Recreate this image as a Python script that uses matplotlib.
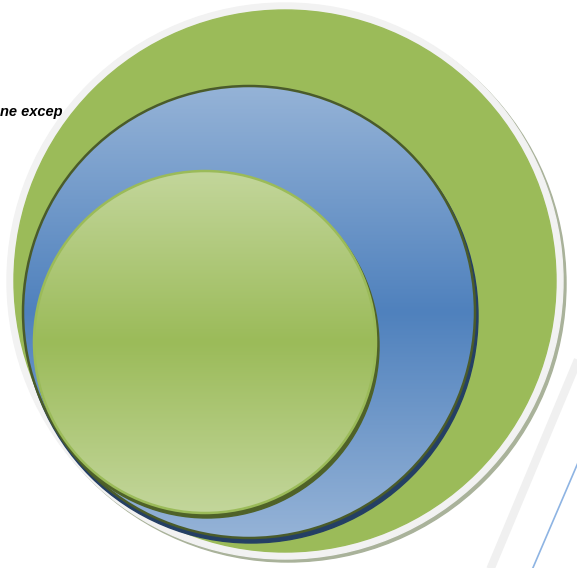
import numpy as np
import matplotlib
matplotlib.use("Agg")
import matplotlib.pyplot as plt
from matplotlib.patches import Circle
from matplotlib.colors import LinearSegmentedColormap

# Nested circles (outer -> inner)
circle_names = ["outer", "middle", "inner"]
centers_x = [285, 249, 205]
centers_y = [281, 312, 342]
radii = [271, 226, 171]
top_colors = ["#9bbb59", "#95b3d7", "#c3d69b"]
mid_colors = ["#9bbb59", "#4f81bd", "#9bbb59"]
edge_colors = ["#f2f2f2", "#4a5b2a", "#9bbb59"]
shadow_colors = ["#a9b29a", "#243f64", "#4f6228"]
label_text = "ne excep"

W, H = 577, 568
fig = plt.figure(figsize=(W / 100, H / 100), dpi=100)
ax = fig.add_axes([0, 0, 1, 1])
ax.set_xlim(0, W)
ax.set_ylim(H, 0)
ax.set_aspect("auto")
ax.axis("off")

# background diagonal lines
ax.plot([580, 490], [355, 570], color="#f0f0f0", lw=6, solid_capstyle="butt", zorder=0)
ax.plot([580, 532], [458, 570], color="#8eb4e3", lw=1.2, zorder=0)

# clipped text
ax.text(0, 112, label_text, fontsize=10.5, fontweight="bold", fontstyle="italic",
        family="Liberation Sans", va="center", ha="left", color="black", zorder=1)

z = 2
for i, name in enumerate(circle_names):
    cx, cy, r = centers_x[i], centers_y[i], radii[i]
    if i == 0:
        # grey ring with shadow
        ax.add_patch(Circle((cx + 3, cy + 3), r + 7, color=shadow_colors[i], zorder=z)); z += 1
        ax.add_patch(Circle((cx, cy), r + 7, color=edge_colors[i], zorder=z)); z += 1
        ax.add_patch(Circle((cx, cy), r, color=top_colors[i], zorder=z)); z += 1
        continue
    ax.add_patch(Circle((cx + 2, cy + 4), r + 1, color=shadow_colors[i], zorder=z)); z += 1
    cmap = LinearSegmentedColormap.from_list(name, [top_colors[i], mid_colors[i], top_colors[i]])
    grad = np.linspace(0, 1, 256).reshape(-1, 1)
    im = ax.imshow(grad, cmap=cmap, extent=[cx - r, cx + r, cy + r, cy - r],
                   aspect="auto", zorder=z, interpolation="bicubic")
    clip = Circle((cx, cy), r, transform=ax.transData, facecolor="none", edgecolor="none")
    ax.add_patch(clip)
    im.set_clip_path(clip)
    z += 1
    ax.add_patch(Circle((cx, cy), r, facecolor="none", edgecolor=edge_colors[i], lw=1.8, zorder=z)); z += 1

ax.set_xlim(0, W)
ax.set_ylim(H, 0)
fig.savefig("out.png", dpi=100)
